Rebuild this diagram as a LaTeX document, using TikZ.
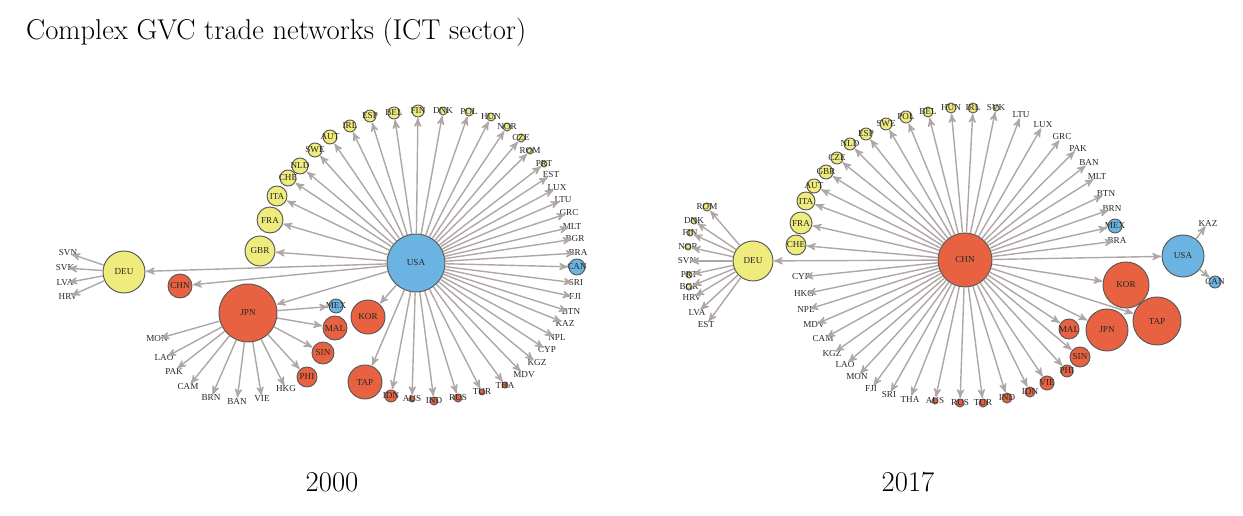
\documentclass[tikz,border=0pt]{standalone}
\usepackage{fontspec}
\usepackage{tikz}
\usetikzlibrary{arrows,positioning}

\newfontfamily\lblfont{Liberation Serif}

\definecolor{ylw}{RGB}{239,235,125}
\definecolor{rd}{RGB}{232,97,64}
\definecolor{bl}{RGB}{107,180,225}
\definecolor{edgegray}{RGB}{175,166,166}

\tikzset{
  cty/.style={circle,draw=black!65,line width=0.55pt,inner sep=0pt,minimum size=#1*1.138pt},
  yn/.style={cty=#1,fill=ylw},
  rn/.style={cty=#1,fill=rd},
  bn/.style={cty=#1,fill=bl},
  bare/.style={inner sep=0pt,minimum size=3pt},
  every label/.style={font=\lblfont\fontsize{5.2}{6}\selectfont,text=black!85,inner sep=0pt},
  every edge/.style={draw=edgegray,line width=0.8pt,->,shorten >=0.3pt}
}

\begin{document}
\begin{tikzpicture}[x=0.02cm,y=-0.02cm,>=stealth']
\useasboundingbox (0,0) rectangle (1243,516);

\node[anchor=base west,font=\fontsize{16.3}{18}\selectfont] (title) at (20,40) {Complex GVC trade networks (ICT sector)};
\node[anchor=base,font=\fontsize{16.3}{18}\selectfont] (y2000) at (332,491) {2000};
\node[anchor=base,font=\fontsize{16.3}{18}\selectfont] (y2017) at (908,491) {2017};

% 2000
\begin{scope}[name prefix=a-]
  \node[bn=29,label=center:USA] (usa) at (416,263) {};
  \node[yn=21,label=center:DEU] (deu) at (124,272) {};
  \node[rn=12,label=center:CHN] (chn) at (180,286) {};
  \node[rn=29,label=center:JPN] (jpn) at (248,313) {};
  % europe arc
  \node[yn=15,label=center:GBR] (gbr) at (260,251) {};
  \node[yn=13,label=center:FRA] (fra) at (270,220) {};
  \node[yn=10,label=center:ITA] (ita) at (277,196) {};
  \node[yn=8,label=center:CHE] (che) at (288,178) {};
  \node[yn=8,label=center:NLD] (nld) at (300,166) {};
  \node[yn=7,label=center:SWE] (swe) at (315,150) {};
  \node[yn=7,label=center:AUT] (aut) at (330,137) {};
  \node[yn=6,label=center:IRL] (irl) at (350,126) {};
  \node[yn=6,label=center:ESP] (esp) at (370,116) {};
  \node[yn=6,label=center:BEL] (bel) at (394,113) {};
  \node[yn=6,label=center:FIN] (fin) at (418,111) {};
  \node[yn=4,label=center:DNK] (dnk) at (443,111) {};
  \node[yn=4,label=center:POL] (pol) at (469,112) {};
  \node[yn=4,label=center:HUN] (hun) at (491,117) {};
  \node[yn=4,label=center:NOR] (nor) at (507,127) {};
  \node[yn=4,label=center:CZE] (cze) at (521,138) {};
  \node[yn=3,label=center:ROM] (rom) at (530,151) {};
  \node[yn=3,label=center:PRT] (prt) at (544,164) {};
  \node[bare,label=center:EST] (est) at (551,175) {};
  \node[bare,label=center:LUX] (lux) at (557,188) {};
  \node[bare,label=center:LTU] (ltu) at (563,200) {};
  \node[bare,label=center:GRC] (grc) at (569,213) {};
  \node[bare,label=center:MLT] (mlt) at (572,227) {};
  \node[bare,label=center:BGR] (bgr) at (575,239) {};
  \node[bare,label=center:BRA] (bra) at (578,253) {};
  \node[bn=8,label=center:CAN] (can) at (577,267) {};
  \node[bare,label=center:SRI] (sri) at (576,283) {};
  \node[bare,label=center:FJI] (fji) at (575,297) {};
  \node[bare,label=center:BTN] (btn) at (571,312) {};
  \node[bare,label=center:KAZ] (kaz) at (565,323) {};
  \node[bare,label=center:NPL] (npl) at (557,338) {};
  \node[bare,label=center:CYP] (cyp) at (547,350) {};
  \node[bare,label=center:KGZ] (kgz) at (537,363) {};
  \node[bare,label=center:MDV] (mdv) at (524,375) {};
  \node[rn=3,label=center:THA] (tha) at (505,385) {};
  \node[rn=3,label=center:TUR] (tur) at (482,392) {};
  \node[rn=4,label=center:RUS] (rus) at (458,398) {};
  \node[rn=4,label=center:IND] (ind) at (434,401) {};
  \node[rn=3,label=center:AUS] (aus) at (412,399) {};
  \node[rn=6,label=center:IDN] (idn) at (391,396) {};
  \node[rn=17,label=center:TAP] (tap) at (365,382) {};
  \node[rn=17,label=center:KOR] (kor) at (368,317) {};
  % around japan
  \node[bn=7,label=center:MEX] (mex) at (336,306) {};
  \node[rn=12,label=center:MAL] (mal) at (335,328) {};
  \node[rn=11,label=center:SIN] (sin) at (323,353) {};
  \node[rn=10,label=center:PHI] (phi) at (307,377) {};
  \node[bare,label=center:HKG] (hkg) at (286,389) {};
  \node[bare,label=center:VIE] (vie) at (262,399) {};
  \node[bare,label=center:BAN] (ban) at (237,401) {};
  \node[bare,label=center:BRN] (brn) at (211,398) {};
  \node[bare,label=center:CAM] (cam) at (188,387) {};
  \node[bare,label=center:PAK] (pak) at (174,371) {};
  \node[bare,label=center:LAO] (lao) at (164,358) {};
  \node[bare,label=center:MON] (mon) at (157,339) {};
  % around germany
  \node[bare,label=center:SVN] (svn) at (68,253) {};
  \node[bare,label=center:SVK] (svk) at (65,268) {};
  \node[bare,label=center:LVA] (lva) at (65,283) {};
  \node[bare,label=center:HRV] (hrv) at (68,297) {};

  \path (usa) edge (gbr) edge (fra) edge (ita) edge (che) edge (nld) edge (swe)
    edge (aut) edge (irl) edge (esp) edge (bel) edge (fin) edge (dnk) edge (pol)
    edge (hun) edge (nor) edge (cze) edge (rom) edge (prt) edge (est) edge (lux)
    edge (ltu) edge (grc) edge (mlt) edge (bgr) edge (bra) edge (can) edge (sri)
    edge (fji) edge (btn) edge (kaz) edge (npl) edge (cyp) edge (kgz) edge (mdv)
    edge (tha) edge (tur) edge (rus) edge (ind) edge (aus) edge (idn) edge (tap)
    edge (kor) edge (jpn) edge (chn) edge (deu);
  \path (jpn) edge (mex) edge (mal) edge (sin) edge (phi) edge (hkg) edge (vie)
    edge (ban) edge (brn) edge (cam) edge (pak) edge (lao) edge (mon);
  \path (deu) edge (svn) edge (svk) edge (lva) edge (hrv);
\end{scope}

% 2017
\begin{scope}[name prefix=b-]
  \node[rn=27,label=center:CHN] (chn) at (965,260) {};
  \node[yn=20,label=center:DEU] (deu) at (753,261) {};
  \node[bn=21,label=center:USA] (usa) at (1183,256) {};
  \node[rn=23,label=center:KOR] (kor) at (1126,285) {};
  \node[rn=24,label=center:TAP] (tap) at (1157,321) {};
  \node[rn=21,label=center:JPN] (jpn) at (1107,330) {};
  \node[rn=10,label=center:MAL] (mal) at (1069,329) {};
  \node[rn=10,label=center:SIN] (sin) at (1080,357) {};
  \node[rn=6,label=center:PHI] (phi) at (1067,371) {};
  \node[rn=7,label=center:VIE] (vie) at (1047,383) {};
  \node[rn=5,label=center:IDN] (idn) at (1030,392) {};
  \node[rn=5,label=center:IND] (ind) at (1007,398) {};
  \node[rn=4,label=center:TUR] (tur) at (983,403) {};
  \node[rn=4,label=center:RUS] (rus) at (960,403) {};
  \node[rn=3,label=center:AUS] (aus) at (935,401) {};
  \node[bare,label=center:THA] (tha) at (910,399) {};
  \node[bare,label=center:SRI] (sri) at (889,395) {};
  \node[bare,label=center:FJI] (fji) at (871,389) {};
  \node[bare,label=center:MON] (mon) at (857,377) {};
  \node[bare,label=center:LAO] (lao) at (845,365) {};
  \node[bare,label=center:KGZ] (kgz) at (832,354) {};
  \node[bare,label=center:CAM] (cam) at (823,339) {};
  \node[bare,label=center:MDV] (mdv) at (814,325) {};
  \node[bare,label=center:NPL] (npl) at (806,310) {};
  \node[bare,label=center:HKG] (hkg) at (804,294) {};
  \node[bare,label=center:CYP] (cyp) at (801,277) {};
  % europe arc
  \node[yn=10,label=center:CHE] (che) at (796,245) {};
  \node[yn=11,label=center:FRA] (fra) at (801,223) {};
  \node[yn=9,label=center:ITA] (ita) at (806,201) {};
  \node[yn=7,label=center:AUT] (aut) at (814,186) {};
  \node[yn=7,label=center:GBR] (gbr) at (826,172) {};
  \node[yn=6,label=center:CZE] (cze) at (837,158) {};
  \node[yn=6,label=center:NLD] (nld) at (850,144) {};
  \node[yn=6,label=center:ESP] (esp) at (866,134) {};
  \node[yn=6,label=center:SWE] (swe) at (886,124) {};
  \node[yn=6,label=center:POL] (pol) at (906,117) {};
  \node[yn=5,label=center:BEL] (bel) at (928,112) {};
  \node[yn=5,label=center:HUN] (hun) at (951,108) {};
  \node[yn=5,label=center:IRL] (irl) at (973,108) {};
  \node[yn=3,label=center:SVK] (svk) at (996,108) {};
  \node[bare,label=center:LTU] (ltu) at (1021,115) {};
  \node[bare,label=center:LUX] (lux) at (1043,125) {};
  \node[bare,label=center:GRC] (grc) at (1062,137) {};
  \node[bare,label=center:PAK] (pak) at (1078,148) {};
  \node[bare,label=center:BAN] (ban) at (1089,163) {};
  \node[bare,label=center:MLT] (mlt) at (1097,177) {};
  \node[bare,label=center:BTN] (btn) at (1106,194) {};
  \node[bare,label=center:BRN] (brn) at (1112,209) {};
  \node[bn=7,label=center:MEX] (mex) at (1115,226) {};
  \node[bare,label=center:BRA] (bra) at (1117,241) {};
  % around usa
  \node[bare,label=center:KAZ] (kaz) at (1208,223) {};
  \node[bn=6,label=center:CAN] (can) at (1215,282) {};
  % around germany
  \node[yn=4,label=center:ROM] (rom) at (707,207) {};
  \node[yn=3,label=center:DNK] (dnk) at (694,221) {};
  \node[yn=3,label=center:FIN] (fin) at (690,233) {};
  \node[yn=3,label=center:NOR] (nor) at (688,247) {};
  \node[bare,label=center:SVN] (svn) at (687,261) {};
  \node[yn=3,label=center:PRT] (prt) at (689,275) {};
  \node[yn=3,label=center:BGR] (bgr) at (689,287) {};
  \node[bare,label=center:HRV] (hrv) at (692,298) {};
  \node[bare,label=center:LVA] (lva) at (697,313) {};
  \node[bare,label=center:EST] (est) at (706,325) {};

  \path (chn) edge (che) edge (fra) edge (ita) edge (aut) edge (gbr) edge (cze)
    edge (nld) edge (esp) edge (swe) edge (pol) edge (bel) edge (hun) edge (irl)
    edge (svk) edge (ltu) edge (lux) edge (grc) edge (pak) edge (ban) edge (mlt)
    edge (btn) edge (brn) edge (mex) edge (bra) edge (usa) edge (kor) edge (tap)
    edge (jpn) edge (mal) edge (sin) edge (phi) edge (vie) edge (idn) edge (ind)
    edge (tur) edge (rus) edge (aus) edge (tha) edge (sri) edge (fji) edge (mon)
    edge (lao) edge (kgz) edge (cam) edge (mdv) edge (npl) edge (hkg) edge (cyp)
    edge (deu);
  \path (usa) edge (kaz) edge (can);
  \path (deu) edge (rom) edge (dnk) edge (fin) edge (nor) edge (svn) edge (prt)
    edge (bgr) edge (hrv) edge (lva) edge (est);
\end{scope}
\end{tikzpicture}
\end{document}
